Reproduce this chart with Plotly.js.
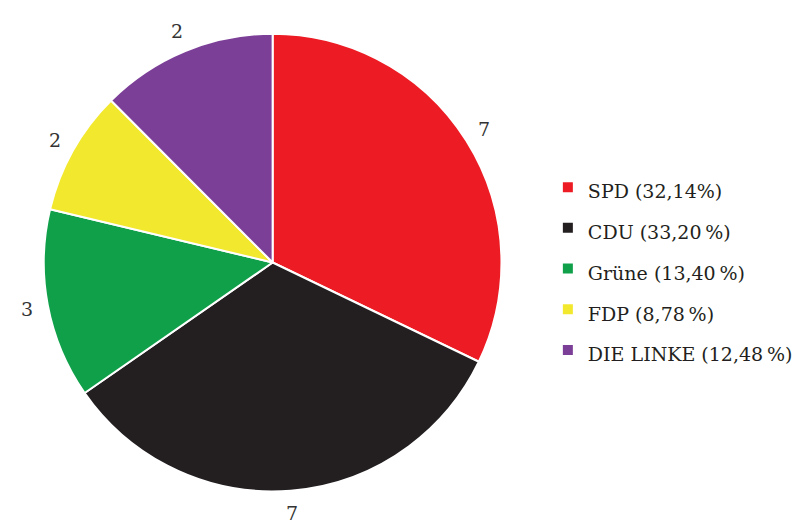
<!DOCTYPE html>
<html>
<head>
<meta charset="utf-8">
<script src="https://cdn.plot.ly/plotly-3.0.1.min.js"></script>
<style>html,body{margin:0;padding:0;background:#fff;}#chart{width:798px;height:525px;}</style>
</head>
<body>
<div id="chart"></div>
<script>
const parties = ["SPD", "CDU", "Grüne", "FDP", "DIE LINKE"];
const percentLabels = ["32,14%", "33,20\u2009%", "13,40\u2009%", "8,78\u2009%", "12,48\u2009%"];
const percents = [32.14, 33.20, 13.40, 8.78, 12.48];
const seats = [7, 7, 3, 2, 2];
const colors = ["#ED1C24", "#231F20", "#10A04A", "#F2E82E", "#7C3F98"];

const W = 798, H = 525;
const dom = {x: [44/W, 504/W], y: [1 - 493/H, 1 - 32/H]};

const legendLabels = parties.map((p, i) =>
  '<span style="font-size:19px">' + p + " (" + percentLabels[i] + ")</span>");

const trace = {
  type: "pie",
  labels: legendLabels,
  values: percents,
  textinfo: "none",
  sort: false,
  direction: "clockwise",
  rotation: 0,
  hoverinfo: "none",
  marker: {colors: colors, line: {color: "#ffffff", width: 2}},
  domain: dom,
  automargin: false
};

// seat labels placed outside each slice at its mid-angle (derived from the data)
const total = percents.reduce((a, b) => a + b, 0);
const cx = (dom.x[0] + dom.x[1]) / 2 * W;
const cy = (1 - (dom.y[0] + dom.y[1]) / 2) * H;
const R = Math.min((dom.x[1] - dom.x[0]) * W, (dom.y[1] - dom.y[0]) * H) / 2;
const labelR = R + 21;
let cum = 0;
const annotations = percents.map((v, i) => {
  const mid = (cum + v / 2) / total * 2 * Math.PI;
  cum += v;
  const px = cx + labelR * Math.sin(mid);
  const py = cy - labelR * Math.cos(mid);
  return {
    xref: "paper", yref: "paper", x: px / W, y: 1 - py / H,
    xanchor: "center", yanchor: "middle", showarrow: false,
    text: String(seats[i]),
    font: {family: "DejaVu Serif", size: 19, color: "#333333"}
  };
});

const layout = {
  width: W, height: H,
  margin: {l: 0, r: 0, t: 0, b: 0},
  paper_bgcolor: "#ffffff",
  showlegend: true,
  annotations: annotations,
  legend: {
    x: 0.69, y: 0.488, xanchor: "left", yanchor: "middle",
    font: {family: "DejaVu Serif", size: 29, color: "#231F20"},
    itemwidth: 30, tracegroupgap: 0
  }
};

Plotly.newPlot("chart", [trace], layout, {displayModeBar: false, staticPlot: true});
</script>
</body>
</html>
